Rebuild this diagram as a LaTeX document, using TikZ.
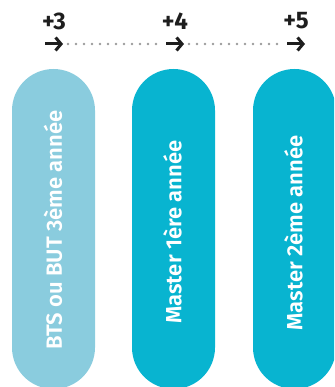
\documentclass[tikz,border=0pt]{standalone}
\usepackage{fontspec}
\setmainfont{Fira Sans}
\newfontfamily\pillfont{Fira Sans SemiBold}
\newfontfamily\stepfont{Fira Sans Bold}
\usetikzlibrary{arrows.meta}
\definecolor{paleblue}{RGB}{138,204,222}
\definecolor{tealblue}{RGB}{8,180,208}
\definecolor{inkdark}{RGB}{30,30,30}
\definecolor{dotgrey}{RGB}{155,155,155}
\tikzset{
  pill/.style={rounded corners=41.5pt, inner sep=0pt},
  pilltext/.style={text=white, font=\pillfont\fontsize{22}{22}\selectfont, rotate=90, inner sep=0pt},
  steplabel/.style={text=inkdark, font=\stepfont\fontsize{24}{24}\selectfont, inner sep=0pt},
  steparrow/.style={draw=inkdark, line width=3pt, -{Straight Barb[length=5.5pt,width=13pt,line width=3pt]}},
  dotline/.style={draw=dotgrey, line width=2.6pt, line cap=round, dash pattern=on 0pt off 8pt},
}
\begin{document}
\begin{tikzpicture}[x=1pt,y=-1pt]
\useasboundingbox (0,0) rectangle (334,387);
\clip (0,0) rectangle (334,387);
% pills
\fill[paleblue, pill] (12,69) rectangle (95,389);
\fill[tealblue, pill] (132,69) rectangle (215,389);
\fill[tealblue, pill] (253,69) rectangle (336,389);
\node[pilltext] (p1) at (53,230) {BTS ou BUT 3ème année};
\node[pilltext] (p2) at (172.5,232) {Master 1ère année};
\node[pilltext] (p3) at (293.5,233) {Master 2ème année};
% step labels
\node[steplabel] (l3) at (54,21) {+3};
\node[steplabel] (l4) at (175,21) {+4};
\node[steplabel] (l5) at (296,21) {+5};
% arrows
\coordinate (a1s) at (45,44); \coordinate (a1e) at (63,44);
\coordinate (a2s) at (166,44); \coordinate (a2e) at (184,44);
\coordinate (a3s) at (287,44); \coordinate (a3e) at (305,44);
\draw[steparrow] (a1s) -- (a1e);
\draw[steparrow] (a2s) -- (a2e);
\draw[steparrow] (a3s) -- (a3e);
\draw[dotline] (68,44) -- (163,44);
\draw[dotline] (189,44) -- (284,44);
\end{tikzpicture}
\end{document}
